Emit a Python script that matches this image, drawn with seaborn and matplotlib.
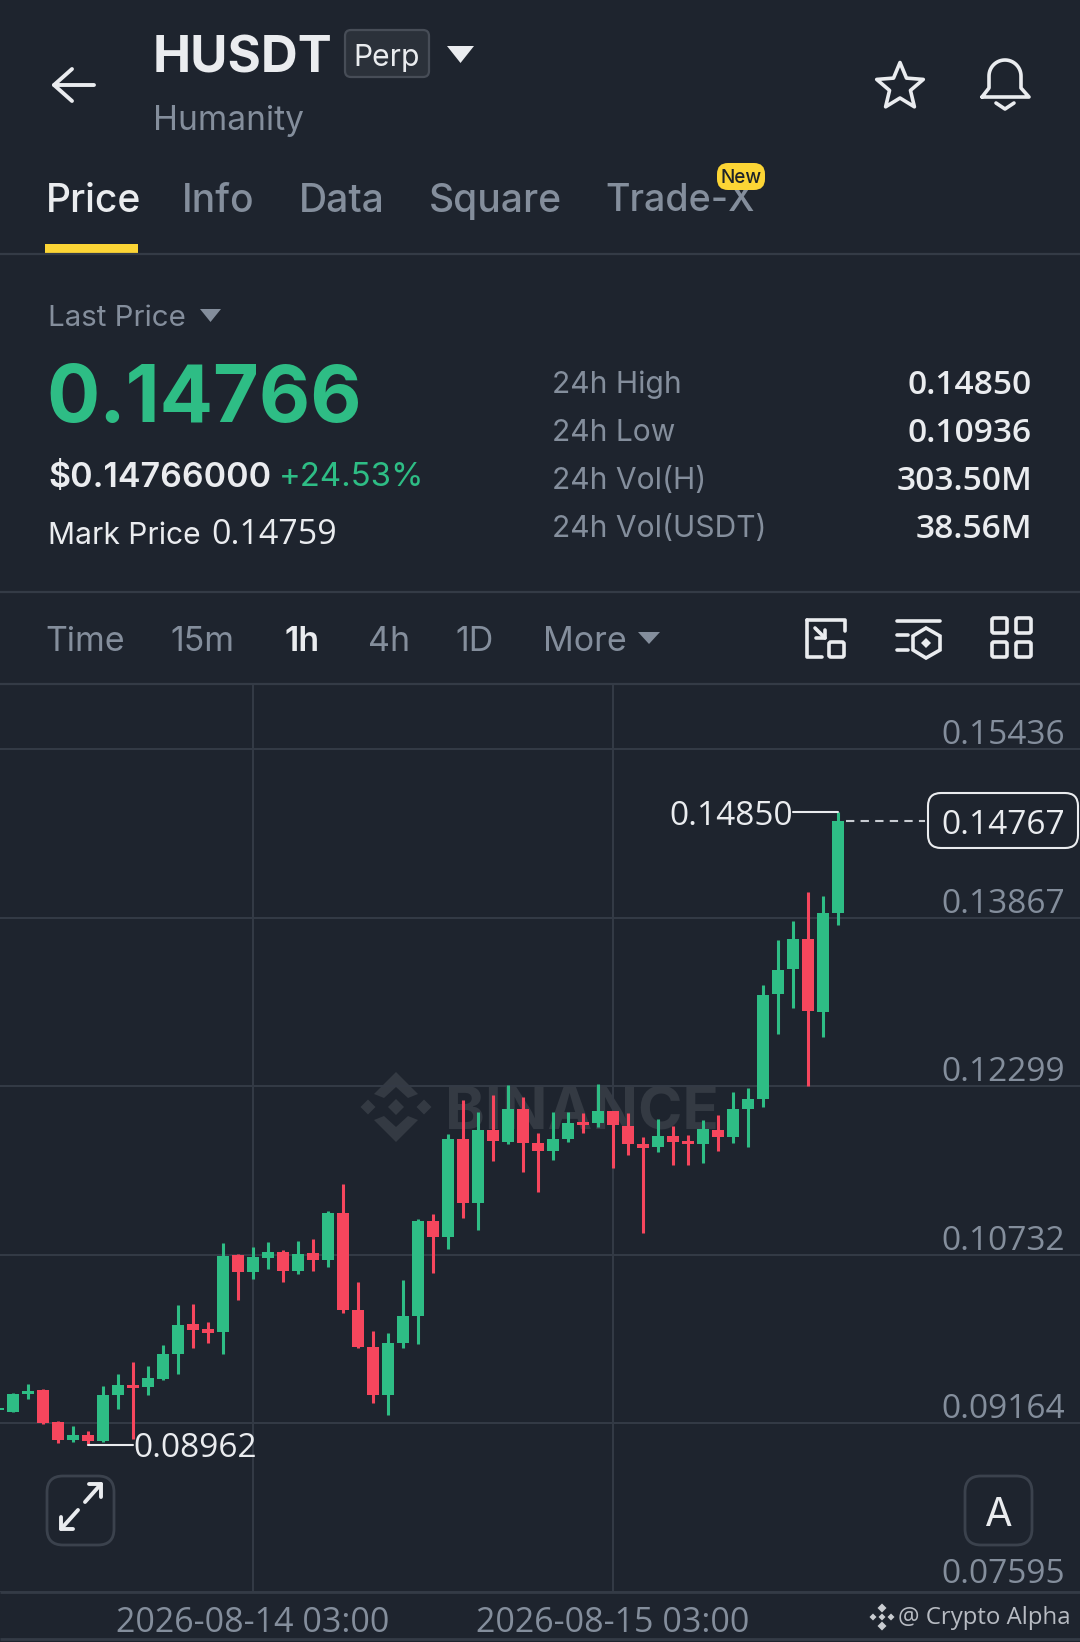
"""HUSDT perpetual 1h candles on a dark trading screen."""

import matplotlib
matplotlib.use("Agg")
import matplotlib.pyplot as plt
from matplotlib.patches import FancyBboxPatch, Polygon, Rectangle
from matplotlib.transforms import ScaledTranslation
import numpy as np
import pandas as pd
import seaborn as sns

# one candle per hour, first one is cut by the left edge
hours = list(range(-1, 56))
opens = [0.09285, 0.09269, 0.09434, 0.09471, 0.09173, 0.09006, 0.09050, 0.08996, 0.09422, 0.09520,
         0.09502, 0.09571, 0.09806, 0.10085, 0.10039, 0.10011, 0.10727, 0.10572, 0.10702, 0.10755,
         0.10579, 0.10743, 0.10684, 0.11118, 0.10213, 0.09868, 0.09425, 0.09911, 0.10160, 0.11044,
         0.10898, 0.11807, 0.11214, 0.11891, 0.11782, 0.12083, 0.11770, 0.11692, 0.11807, 0.11965,
         0.11953, 0.12067, 0.11928, 0.11758, 0.11732, 0.11838, 0.11788, 0.11760, 0.11893, 0.11823,
         0.12083, 0.12176, 0.13153, 0.13386, 0.13668, 0.12989, 0.13907]
closes = [0.09304, 0.09434, 0.09465, 0.09161, 0.09006, 0.09050, 0.08999, 0.09422, 0.09518, 0.09490,
          0.09580, 0.09803, 0.10079, 0.10029, 0.10004, 0.10718, 0.10572, 0.10706, 0.10758, 0.10581,
          0.10739, 0.10684, 0.11121, 0.10216, 0.09868, 0.09425, 0.09911, 0.10160, 0.11041, 0.10898,
          0.11807, 0.11214, 0.11891, 0.11791, 0.12089, 0.11772, 0.11698, 0.11810, 0.11959, 0.11940,
          0.12067, 0.11937, 0.11760, 0.11726, 0.11838, 0.11782, 0.11758, 0.11897, 0.11825, 0.12086,
          0.12179, 0.13147, 0.13380, 0.13665, 0.12998, 0.13907, 0.14767]
highs = [0.09332, 0.09443, 0.09527, 0.09483, 0.09178, 0.09136, 0.09092, 0.09508, 0.09620, 0.09732,
         0.09694, 0.09887, 0.10259, 0.10271, 0.10104, 0.10836, 0.10737, 0.10799, 0.10851, 0.10774,
         0.10858, 0.10874, 0.11134, 0.11385, 0.10473, 0.10017, 0.10004, 0.10495, 0.11060, 0.11109,
         0.11853, 0.12170, 0.12058, 0.12214, 0.12312, 0.12195, 0.11860, 0.12058, 0.12058, 0.12052,
         0.12319, 0.12067, 0.12046, 0.11828, 0.11990, 0.11928, 0.11844, 0.11984, 0.12027, 0.12244,
         0.12279, 0.13240, 0.13659, 0.13833, 0.14108, 0.14068, 0.14850]
lows = [0.09266, 0.09266, 0.09390, 0.09155, 0.08981, 0.08987, 0.08962, 0.08990, 0.09297, 0.09012,
        0.09427, 0.09564, 0.09620, 0.09862, 0.09906, 0.09806, 0.10309, 0.10507, 0.10600, 0.10476,
        0.10551, 0.10581, 0.10619, 0.10185, 0.09862, 0.09347, 0.09241, 0.09859, 0.09899, 0.10563,
        0.10780, 0.11069, 0.10957, 0.11599, 0.11763, 0.11497, 0.11316, 0.11614, 0.11779, 0.11860,
        0.11921, 0.11537, 0.11661, 0.10929, 0.11686, 0.11565, 0.11568, 0.11581, 0.11692, 0.11772,
        0.11735, 0.12102, 0.12781, 0.13026, 0.12303, 0.12753, 0.13796]

price_ticks = [0.15436, 0.13867, 0.12299, 0.10732, 0.09164, 0.07595]
price_labels = ["0.15436", "0.13867", "0.12299", "0.10732", "0.09164", "0.07595"]
time_ticks = [16, 40]
time_labels = ["2026-08-14 03:00", "2026-08-15 03:00"]
high_price = 0.14850
low_price = 0.08962
last_price = 0.14767

tabs = ["Price", "Info", "Data", "Square", "Trade-X"]
intervals = ["Time", "15m", "1h", "4h", "1D", "More"]
stat_names = ["24h High", "24h Low", "24h Vol(H)", "24h Vol(USDT)"]
stat_values = ["0.14850", "0.10936", "303.50M", "38.56M"]

BG = "#1e242e"
GREEN = "#2ebd85"
RED = "#f6465d"
GRAY = "#848e9c"
LINE = "#343b46"
WHITE = "#eaecef"
YELLOW = "#fcd535"
W, H = 1080, 1642
NUM_FONT = "Open Sans"

sns.set_theme(style="dark", rc={"axes.facecolor": BG, "figure.facecolor": BG})
plt.rcParams["font.family"] = ["Inter", "DejaVu Sans"]

fig = plt.figure(figsize=(W / 100, H / 100), dpi=100, facecolor=BG)

# full-page layer in pixels for the app chrome
ui = fig.add_axes([0, 0, 1, 1], zorder=0)
ui.set_xlim(0, W)
ui.set_ylim(H, 0)
ui.axis("off")


def put(x, y, s, px, color=WHITE, weight="normal", ha="left", **kw):
    ui.text(x, y, s, fontsize=px * 0.72, color=color, fontweight=weight, ha=ha, va="center", **kw)


def hline(y, x0=0, x1=W, color=LINE, lw=1.6):
    ui.plot([x0, x1], [y, y], color=color, lw=lw, solid_capstyle="butt")


def tri(x0, x1, y0, y1, color):
    ui.add_patch(Polygon([(x0, y0), (x1, y0), ((x0 + x1) / 2, y1)], color=color, lw=0))


def box(x, y, w, h, edge, face="none", lw=1.6, r=8, **kw):
    ui.add_patch(FancyBboxPatch((x + r, y + r), w - 2 * r, h - 2 * r, boxstyle=f"round,pad={r}",
                                ec=edge, fc=face, lw=lw, **kw))


def stroke(xs, ys, lw=3.0, color=WHITE):
    ui.plot(xs, ys, color=color, lw=lw, solid_capstyle="round", solid_joinstyle="round")


# header
stroke([94, 54, 72], [85, 85, 69], lw=2.8)
stroke([54, 72], [85, 101], lw=2.8)
put(153, 59, "HUSDT", 51, weight="bold")
box(345, 30, 84, 47, "#474d57", "#2b313a", lw=1.6, r=6)
put(387, 58, "Perp", 30, ha="center")
tri(447, 474, 46, 63, WHITE)
put(153, 121, "Humanity", 33.5, color=GRAY)

ang = np.arange(10) * np.pi / 5 - np.pi / 2
rad = np.where(np.arange(10) % 2 == 0, 24.5, 11)
ui.add_patch(Polygon(np.c_[900 + rad * np.cos(ang), 87 + rad * np.sin(ang)], fc="none", ec=WHITE,
                     lw=2.6, joinstyle="round"))

t = np.linspace(np.pi, 0, 30)
stroke(np.r_[982, 989, 989 + 16 * (1 + np.cos(t)), 1021, 1029, 982],
       np.r_[97, 88, 76 + 16 * -np.sin(t), 88, 97, 97], lw=2.6)
stroke([996, 1005, 1014], [103, 109, 103], lw=2.6)

for name, x, px in zip(tabs, [46, 182, 299, 429, 605], [39, 39, 39, 39, 37.6]):
    put(x, 201, name, px, color=WHITE if name == "Price" else GRAY, weight="medium")
ui.add_patch(Rectangle((45, 244), 93, 10, color=YELLOW, lw=0))
box(717, 163, 48, 27, YELLOW, YELLOW, lw=0, r=11, zorder=5)
put(741, 178, "New", 19, color="#1e2329", ha="center", weight="medium", zorder=6)
hline(254)

# price block
put(48, 318, "Last Price", 29.5, color=GRAY)
tri(200, 221, 309, 322, GRAY)
put(46, 401, "0.14766", 79, color=GREEN, weight="bold")
put(48, 478, "$0.14766000", 34, weight="semibold")
put(279, 478, "+24.53%", 33, color=GREEN)
put(48, 536, "Mark Price", 30)
put(211, 535, "0.14759", 34, family=NUM_FONT)
for name, value, y in zip(stat_names, stat_values, [385, 433, 481, 529]):
    put(552, y, name, 30, color=GRAY)
    put(1032, y, value, 33.5, ha="right", weight="semibold", family=NUM_FONT)
hline(592)

# interval bar
for name, x in zip(intervals, [45, 170, 284, 368, 455, 543]):
    put(x, 642, name, 34, color=WHITE if name == "1h" else GRAY,
        weight="semibold" if name == "1h" else "normal")
tri(638, 660, 632, 644, GRAY)

stroke([807, 845, 845], [620, 620, 631], lw=2.6)
stroke([807, 807, 822], [620, 657, 657], lw=2.6)
stroke([815, 825], [628, 638], lw=2.6)
stroke([816, 825, 825], [638, 638, 630], lw=2.6)
box(829, 642, 15, 15, WHITE, lw=2.6, r=2)
stroke([897, 940], [621, 621], lw=2.6)
stroke([897, 908], [635, 635], lw=2.6)
stroke([897, 908], [650, 650], lw=2.6)
ui.add_patch(Polygon([(926, 628), (940, 636), (940, 650), (926, 658), (913, 650), (913, 636)],
                     fc="none", ec=WHITE, lw=2.6))
ui.add_patch(Polygon([(926, 638), (931, 643), (926, 648), (921, 643)], color=WHITE, lw=0))
for bx, by in [(992, 618), (1016, 618), (992, 642), (1016, 642)]:
    box(bx, by, 15, 15, WHITE, lw=2.6, r=2)
hline(684)

# faint exchange watermark sits under the candles
mark = "#343a43"
for cx, cy, r in [(396, 1107, 8), (368, 1107, 7.5), (424, 1107, 7.5)]:
    ui.add_patch(Polygon([(cx, cy - r), (cx + r, cy), (cx, cy + r), (cx - r, cy)], color=mark, lw=0))
ui.add_patch(Polygon([(396, 1072), (418, 1094), (408, 1098), (396, 1087), (384, 1098), (374, 1094)],
                     color=mark, lw=0))
ui.add_patch(Polygon([(396, 1142), (418, 1120), (408, 1116), (396, 1127), (384, 1116), (374, 1120)],
                     color=mark, lw=0))
put(445, 1114, "BINANCE", 60, color=mark, weight="bold")

# buttons and footer
box(47, 1476, 67, 69, "#3b424d", lw=2.0, r=16)
stroke([61, 78], [1529, 1510], lw=2.8)
stroke([61, 61, 73], [1517, 1529, 1529], lw=2.8)
stroke([85, 101], [1502, 1484], lw=2.8)
stroke([89, 101, 101], [1484, 1484, 1497], lw=2.8)
box(965, 1476, 67, 69, "#3b424d", lw=2.0, r=16)
put(999, 1515, "A", 40, ha="center")
hline(1592, lw=2)
hline(1639, lw=2)
for cx, cy, r in [(882, 1608, 4.5), (882, 1626, 4.5), (873, 1617, 3.5), (891, 1617, 3.5), (882, 1617, 3.5)]:
    ui.add_patch(Polygon([(cx, cy - r), (cx + r, cy), (cx, cy + r), (cx - r, cy)], color="#c9ccd1", lw=0))
ui.text(1071, 1618, "@ Crypto Alpha", fontsize=24 * 0.72, color="#b7bbc2", ha="right", va="center",
        family="Open Sans")

# latest price tag, behind the chart layer
box(928, 793, 150, 55, WHITE, BG, lw=1.5, r=13)

# candles
candles = pd.DataFrame({"hour": hours, "open": opens, "close": closes, "high": highs, "low": lows})
candles["base"] = candles[["open", "close"]].min(axis=1)
candles["body"] = (candles["close"] - candles["open"]).abs()
candles["color"] = np.where(candles["close"] >= candles["open"], GREEN, RED)

ax = fig.add_axes([0, (H - 1592) / H, 1, (1592 - 684) / H], zorder=1)
ax.patch.set_visible(False)

ax.vlines(candles["hour"], candles["low"], candles["high"], colors=candles["color"], lw=2.2, zorder=3)
for color, part in candles.groupby("color"):
    sns.barplot(data=part, x="hour", y="body", bottom=part["base"].to_numpy(), native_scale=True,
                color=color, saturation=1, width=0.82, errorbar=None, linewidth=0, ax=ax, zorder=4)

ax.set_xlim((0 - 13) / 15, (W - 13) / 15)
ax.set_ylim(0.09164 + (1423 - 1592) / 10746, 0.09164 + (1423 - 684) / 10746)
ax.set_xlabel("")
ax.set_ylabel("")
sns.despine(ax=ax, left=True, bottom=True)

ax.set_xticks(time_ticks, time_labels, family=NUM_FONT)
ax.set_yticks(price_ticks, price_labels, family=NUM_FONT)
ax.yaxis.tick_right()
ax.grid(True, color=LINE, lw=1.4, zorder=1)
ax.set_axisbelow(True)
ax.tick_params(axis="x", length=0, pad=10, labelsize=34 * 0.72, labelcolor=GRAY)
ax.tick_params(axis="y", length=0, pad=-15 * 0.72, labelsize=33.5 * 0.72, labelcolor=GRAY)
# labels sit just above their lines, the bottom one a little higher
for lab, shift in zip(ax.get_yticklabels(), [-3, -3, -3, -3, -3, 1]):
    lab.set_ha("right")
    lab.set_va("bottom")
    lab.set_transform(lab.get_transform() + ScaledTranslation(0, shift / 100, fig.dpi_scale_trans))

# extreme and last price markers
ax.plot([55, 52], [high_price, high_price], color=WHITE, lw=1.5, zorder=5)
ax.plot([5, 8], [low_price, low_price], color=WHITE, lw=1.5, zorder=5)
ax.annotate(f"{high_price:.5f}", (52, high_price), xytext=(0, -3), textcoords="offset points", ha="right",
            va="center", color=WHITE, family=NUM_FONT, fontsize=33.5 * 0.72, zorder=6)
ax.annotate(f"{low_price:.5f}", (8, low_price), xytext=(0, -3), textcoords="offset points", ha="left",
            va="center", color=WHITE, family=NUM_FONT, fontsize=33.5 * 0.72, zorder=6)
ax.plot([55.5, 60.8], [last_price, last_price], color="#c8ccd2", lw=1.5, ls=(0, (4, 3)), zorder=5)
ax.annotate(f"{last_price:.5f}", (1003 / W, last_price), xycoords=ax.get_yaxis_transform(), xytext=(0, -3),
            textcoords="offset points", ha="center", va="center", color=WHITE, family=NUM_FONT,
            fontsize=33.5 * 0.72, zorder=6)

fig.savefig("out.png", dpi=100, facecolor=BG)
